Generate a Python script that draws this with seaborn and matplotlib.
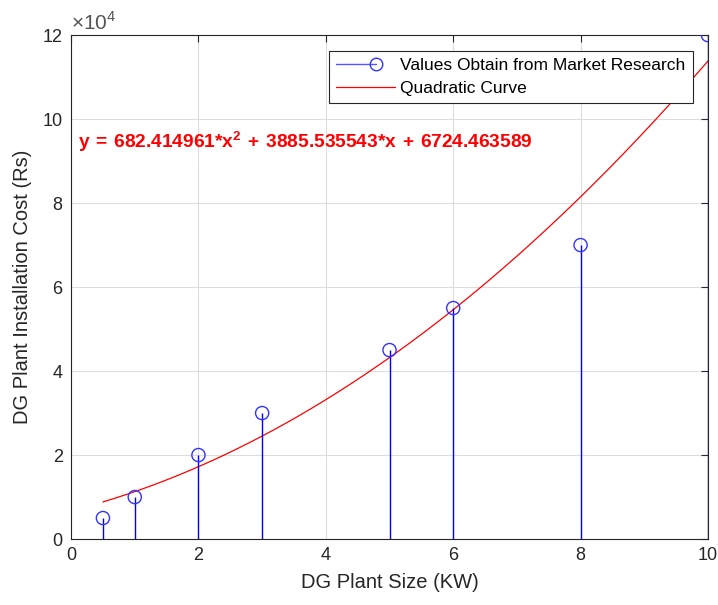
import numpy as np
import matplotlib
matplotlib.use("Agg")
import matplotlib.pyplot as plt
import seaborn as sns
from matplotlib.lines import Line2D
from matplotlib.legend_handler import HandlerLine2D
from matplotlib.ticker import FuncFormatter

# data
plant_size = [0.5, 1, 2, 3, 5, 6, 8, 10]
install_cost = [5000, 10000, 20000, 30000, 45000, 55000, 70000, 120000]
# quadratic fit coefficients as printed on the chart
quad_coef = [682.414961, 3885.535543, 6724.463589]

sns.set_style("white")
plt.rcParams['font.family'] = ['Liberation Sans', 'DejaVu Sans']
plt.rcParams['mathtext.fontset'] = 'custom'
plt.rcParams['mathtext.rm'] = 'Liberation Sans'
plt.rcParams['mathtext.bf'] = 'Liberation Sans:bold'

dark = '#262626'

fig = plt.figure(figsize=(7.18, 6.05), dpi=100)
ax = fig.add_axes([0.099, 0.109, 0.887, 0.833])

# stems + open circle markers
ax.vlines(plant_size, 0, install_cost, color='#0000ff', lw=1.0, zorder=3)
sns.scatterplot(x=plant_size, y=install_cost, ax=ax, s=90, marker='o',
                facecolor='none', edgecolor='#3333ff', linewidth=1.0, zorder=4)

# fitted curve
xs = np.linspace(min(plant_size), max(plant_size), 200)
sns.lineplot(x=xs, y=np.polyval(quad_coef, xs), ax=ax, color='red', lw=0.9, zorder=2)

ax.set_xlim(0, 10)
ax.set_ylim(0, 120000)
ax.set_xticks(range(0, 11, 2))
ax.set_yticks(range(0, 120001, 20000))
ax.yaxis.set_major_formatter(FuncFormatter(lambda v, p: f"{v / 1e4:g}"))
ax.grid(True, color='#dcdcdc', lw=0.8)
ax.set_axisbelow(True)
ax.tick_params(direction='in', length=5, top=True, right=True, labelsize=13,
               colors=dark, pad=6)
for sp in ax.spines.values():
    sp.set_color(dark)
    sp.set_linewidth(0.8)

ax.set_xlabel('DG Plant Size (KW)', fontsize=14.5, color=dark, labelpad=6)
ax.set_ylabel('DG Plant Installation Cost (Rs)', fontsize=14.5, color=dark, labelpad=8)

ax.text(0.0, 1.003, r'$\times10^{4}$', transform=ax.transAxes, fontsize=15,
        color='#555555', ha='left', va='bottom')

ax.text(0.11, 94500,
        r'$\mathbf{y\,=\,682.414961{*}x^{2}\,+\,3885.535543{*}x\,+\,6724.463589}$',
        color='red', fontsize=13.8, ha='left', va='center')


class StemHandler(HandlerLine2D):
    # blue line ending in a circle about two thirds along, like MATLAB's stem legend
    def create_artists(self, legend, orig_handle, xdescent, ydescent,
                       width, height, fontsize, trans):
        arts = super().create_artists(legend, orig_handle, xdescent, ydescent,
                                      width, height, fontsize, trans)
        for a in arts:
            xd = a.get_xdata()
            yd = a.get_ydata()
            x0, x1 = xd[0], xd[-1]
            a.set_data([x0, x0 + 0.68 * (x1 - x0)], [yd[0], yd[0]])
            a.set_markevery([1])
        return arts


h_stem = Line2D([], [], color='#5555ff', lw=1.0, marker='o', markersize=9,
                markerfacecolor='none', markeredgecolor='#3333ff')
h_curve = Line2D([], [], color='red', lw=0.9)
leg = ax.legend([h_stem, h_curve],
                ['Values Obtain from Market Research', 'Quadratic Curve'],
                loc='upper right', bbox_to_anchor=(0.976, 0.968),
                borderaxespad=0, fontsize=12.5, frameon=True, fancybox=False,
                edgecolor=dark, framealpha=1, handlelength=3.4,
                handletextpad=0.3, labelspacing=0.45, borderpad=0.4,
                handler_map={h_stem: StemHandler(numpoints=1)})
leg.get_frame().set_linewidth(0.8)
for t in leg.get_texts():
    t.set_color('black')

fig.savefig('out.png', dpi=100)
